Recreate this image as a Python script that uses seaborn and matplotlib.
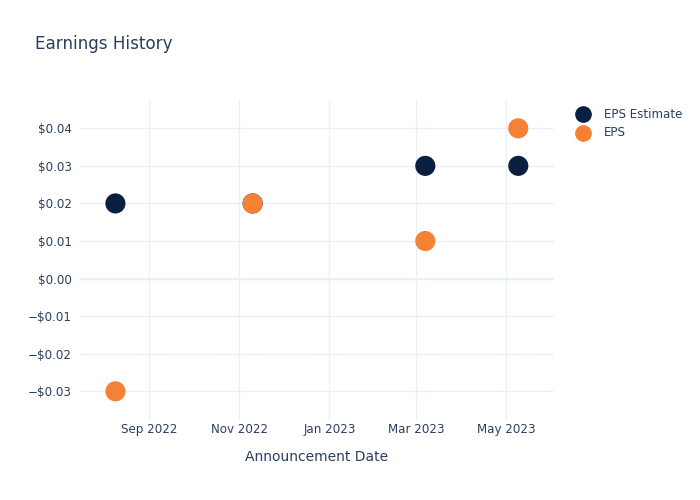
import matplotlib
matplotlib.use("Agg")
import matplotlib.pyplot as plt
import matplotlib.dates as mdates
from matplotlib.ticker import FuncFormatter, MultipleLocator
import seaborn as sns
import pandas as pd

dates = ["2022-08-09", "2022-11-10", "2023-03-07", "2023-05-09"]
eps_estimate = [0.02, 0.02, 0.03, 0.03]
eps_actual = [-0.03, 0.02, 0.01, 0.04]
series_names = ["EPS Estimate", "EPS"]
colors = {"EPS Estimate": "#0b1f41", "EPS": "#f58134"}

df = pd.DataFrame({
    "date": pd.to_datetime(dates * 2),
    "value": eps_estimate + eps_actual,
    "series": [series_names[0]] * len(dates) + [series_names[1]] * len(dates),
})

sns.set_theme(style="white")
plt.rcParams["font.family"] = ["DejaVu Sans"]
text_color = "#2a3f5f"
grid_color = "#ebf0f8"

fig = plt.figure(figsize=(7, 5), dpi=100)
ax = fig.add_axes([0.1143, 0.16, 0.791 - 0.1143, 0.64])

sns.scatterplot(data=df, x="date", y="value", hue="series", hue_order=series_names,
                palette=colors, s=210, linewidth=0, ax=ax, zorder=3, legend=False)

ax.set_xlim(pd.Timestamp("2022-07-16"), pd.Timestamp("2023-06-02"))
ax.set_ylim(-0.03764, 0.04753)

ax.xaxis.set_major_locator(mdates.MonthLocator(bymonth=[1, 3, 5, 7, 9, 11]))
ax.xaxis.set_major_formatter(mdates.DateFormatter("%b %Y"))
ax.yaxis.set_major_locator(MultipleLocator(0.01))

def money(v, pos):
    v = round(v, 4)
    if v < 0:
        return "\u2212$%.2f" % abs(v)
    return "$%.2f" % abs(v)

ax.yaxis.set_major_formatter(FuncFormatter(money))

ax.grid(True, color=grid_color, linewidth=1, zorder=0)
ax.axhline(0, color=grid_color, linewidth=1.6, zorder=1)
for s in ax.spines.values():
    s.set_visible(False)
ax.tick_params(axis="both", length=0, labelsize=8.6, colors=text_color)
ax.tick_params(axis="x", pad=2)
ax.tick_params(axis="y", pad=6)

ax.set_xlabel("Announcement Date", fontsize=10, color=text_color, labelpad=10.5)
ax.set_ylabel("")

fig.text(35 / 700, 1 - 44 / 500, "Earnings History", fontsize=12.1, color=text_color,
         ha="left", va="center")

# legend
for i, name in enumerate(series_names):
    y = 1 - (114 + 19 * i) / 500
    fig.lines.append(plt.Line2D([583 / 700], [y], marker="o", markersize=11,
                                color=colors[name], linestyle="none",
                                transform=fig.transFigure, figure=fig))
    fig.text(604 / 700, y, name, fontsize=8.6, color=text_color, ha="left", va="center")

fig.savefig("out.png", dpi=100, facecolor="white")
